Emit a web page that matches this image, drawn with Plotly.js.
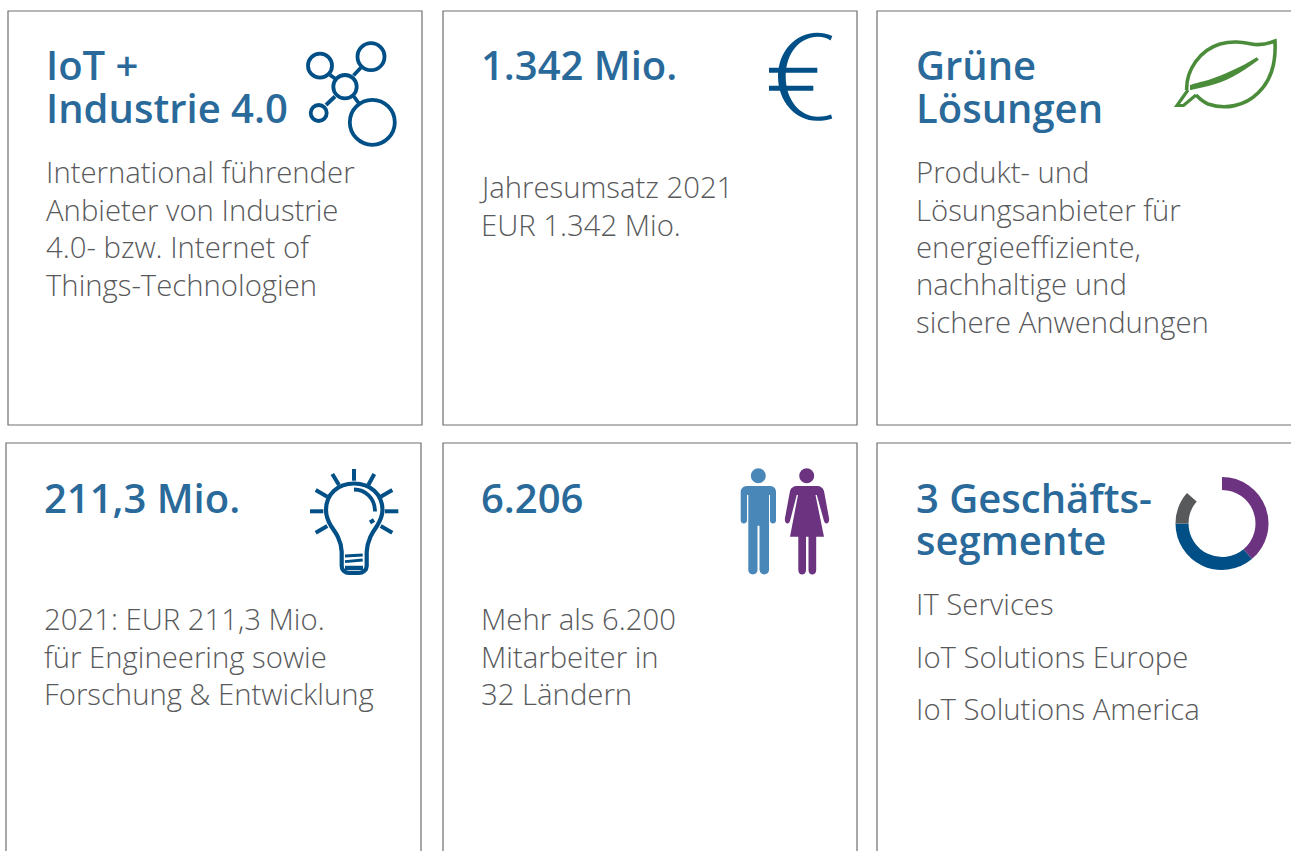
<!DOCTYPE html>
<html><head><meta charset="utf-8">
<script src="https://cdn.plot.ly/plotly-3.0.1.min.js"></script>
<style>html,body{margin:0;padding:0;background:#fff;overflow:hidden}#c{width:1291px;height:851px}</style>
</head><body><div id="c"></div>
<script>
// Donut: business segments (share of circle, degrees)
const segmentLabels = ['IoT Solutions America', 'IoT Solutions Europe', 'IT Services', ''];
const segmentValues = [140, 130, 41, 49];
const segmentColors = ['#6c3480', '#004f86', '#58595b', 'rgba(0,0,0,0)'];

const headings = [
  ['IoT +', 46.4, 64], ['Industrie 4.0', 46.4, 107],
  ['1.342 Mio.', 481.4, 64],
  ['Grüne', 915.5, 64], ['Lösungen', 915.5, 107],
  ['211,3 Mio.', 44, 497],
  ['6.206', 481, 497],
  ['3 Geschäfts-', 915.5, 497], ['segmente', 915.5, 539.5]
];
const bodyLines = [
  ['International führender', 46, 172], ['Anbieter von Industrie', 46, 209.5],
  ['4.0- bzw. Internet of', 46, 247], ['Things-Technologien', 46, 284.5],
  ['Jahresumsatz 2021', 479, 187], ['EUR 1.342 Mio.', 481, 225],
  ['Produkt- und', 916, 172], ['Lösungsanbieter für', 916, 209.5],
  ['energieeffiziente,', 916, 247], ['nachhaltige und', 916, 284], ['sichere Anwendungen', 916, 322],
  ['2021: EUR 211,3 Mio.', 44, 619], ['für Engineering sowie', 44, 657], ['Forschung & Entwicklung', 44, 694],
  ['Mehr als 6.200', 481, 619], ['Mitarbeiter in', 481, 657], ['32 Ländern', 481, 694],
  ['IT Services', 916, 604], ['IoT Solutions Europe', 916, 657], ['IoT Solutions America', 916, 709]
];
const cards = [[8,11,422,425],[443,11,857,425],[877,11,1320,425],[6,443,421,900],[443,443,857,900],[877,443,1320,900]];

const navy = '#004f86', green = '#4a8c3a', manBlue = '#4a87b9', purple = '#6c3480';
const HEAD = '#2a6a9a', BODY = '#58595b', BOX = '#6f6f6f';

const ringIcons = [[345,86.7,11.7],[371,56.7,13.5],[320,65.7,12],[318.7,113,8],[372.3,122.3,22.5]];
const strokes = [
  // network connectors
  ['M330 75L335 78.5', navy, 3.8], ['M353.5 75.5L361 67.5', navy, 3.8],
  ['M335 96.5L326 105', navy, 3.8], ['M353.5 96L359 103.5', navy, 3.8],
  // leaf
  ['M1186.7 90C1186 70 1200 50 1220 44C1235 40 1245 43 1255 44.5C1263 45 1270 43 1275 41C1276 60 1272 80 1258 93C1245 106 1225 110 1208 104C1203 102 1199 98 1196 95', green, 3.6],
  ['M1188 90L1177 105.5L1183.5 105.5L1196 95', green, 3.2],
  // bulb
  ['M354 469V480.7', navy, 4], ['M332.3 474L339 485', navy, 4], ['M374.3 474L368.3 485', navy, 4],
  ['M315.7 490L327.3 496.7', navy, 4], ['M392.3 490L380.7 496.7', navy, 4],
  ['M310 511.3H323.3', navy, 4], ['M398.3 511.3H385', navy, 4],
  ['M315.7 532.7L327.3 526', navy, 4], ['M392.3 532.7L380.7 526', navy, 4],
  ['M341.7 551.7C341 540 336 533 331 526C328 521 326 516 326 510C326 494 338 483.5 354 483.5C370 483.5 382.5 494 382.5 510C382.5 516 380 521 377 526C372 533 367.5 540 366.7 551.7L366.7 566C366.7 570 363 573 359 573L349 573C345 573 341.7 570 341.7 566Z', navy, 4.2],
  ['M354 489.5C365 489.5 375 498 375 511.5', navy, 3.8],
  ['M370 522.5L374 520', navy, 4],
  ['M345 556L362.7 555', navy, 2.8], ['M345 561.7L362.7 560', navy, 2.8], ['M345 568L363 568', navy, 4.5]
];
const fills = [
  // euro
  ['M832.3 36C827 33.5 822 32.7 817 32.7C795 32.7 778 52 778 76.5C778 101 795 120.8 817 120.8C823 120.8 828 120 832.3 118.5L831 114.5C827 116 822 116.7 818 116.7C800 116.7 785.7 100 785.7 76.5C785.7 53 800 36.8 818 36.8C823 36.8 827 38 830.5 40.5Z', navy],
  ['M769 67.7H817.3V72.7H769Z', navy], ['M769 85.7H813.3V90.7H769Z', navy],
  // leaf vein
  ['M1256.7 57.3C1240 68 1225 74 1208.3 80C1200 82 1195 83.5 1190 85L1190 90.3C1197 88.5 1203 87.5 1208.3 86C1225 82 1240 74 1258.8 59.8Z', green],
  // man
  ['M747 486L770 486C774 486 776 489 776 492L776 520.5C776 524.5 770 524.5 770 520.5L770 495L769 495L769 569.5C769 576 759.5 576 759.5 569.5L759.5 525.7L757.5 525.7L757.5 569.5C757.5 576 748.3 576 748.3 569.5L748.3 495L747 495L747 520.5C747 524.5 740.7 524.5 740.7 520.5L740.7 492C740.7 489 743 486 747 486Z', manBlue],
  // woman
  ['M798 486L816 486C821 486 823 488 824 491L829 518C830 524 825 525 824 521L816.8 495L815.5 495L824 536.7L816.2 536.7L816.2 570C816.2 576 808.5 576 808.5 570L808.5 536.7L806 536.7L806 570C806 576 798.3 576 798.3 570L798.3 536.7L790 536.7L798 495L796.7 495L790 521C789 525 784 524 785 518L790 491C791 488 793 486 798 486Z', purple]
];
const heads = [[758.3,475.7,7.5,manBlue],[806.7,475.7,7.5,purple]];

const shapes = [];
cards.forEach(c => shapes.push({type:'rect',xref:'x',yref:'y',x0:c[0],y0:c[1],x1:c[2],y1:c[3],line:{color:BOX,width:1.2},fillcolor:'rgba(0,0,0,0)'}));
ringIcons.forEach(r => shapes.push({type:'circle',xref:'x',yref:'y',x0:r[0]-r[2],x1:r[0]+r[2],y0:r[1]-r[2],y1:r[1]+r[2],line:{color:navy,width:3.8},fillcolor:'rgba(0,0,0,0)'}));
strokes.forEach(s => shapes.push({type:'path',xref:'x',yref:'y',path:s[0],line:{color:s[1],width:s[2]},fillcolor:'rgba(0,0,0,0)'}));
fills.forEach(f => shapes.push({type:'path',xref:'x',yref:'y',path:f[0],line:{width:0},fillcolor:f[1]}));
heads.forEach(h => shapes.push({type:'circle',xref:'x',yref:'y',x0:h[0]-h[2],x1:h[0]+h[2],y0:h[1]-h[2],y1:h[1]+h[2],line:{width:0},fillcolor:h[3]}));

const note = (t, size, weight, color) => ({
  text:t[0], x:t[1], y:t[2], xref:'x', yref:'y', xanchor:'left', yanchor:'middle', showarrow:false, borderpad:0, borderwidth:0,
  font:{family:'"Open Sans", sans-serif', size:size, weight:weight, color:color}
});
const annotations = headings.map(t => note(t, 40, 600, HEAD)).concat(bodyLines.map(t => note(t, 29.3, 300, BODY)));

const W = 1291, H = 851, cx = 1222, cy = 523.5, R = 46.5;
const traces = [
  {type:'scatter', x:[], y:[], hoverinfo:'skip', showlegend:false},
  {type:'pie', labels:segmentLabels, values:segmentValues, sort:false, direction:'clockwise', rotation:0, hole:0.72,
   marker:{colors:segmentColors, line:{width:0}}, textinfo:'none', hoverinfo:'label', showlegend:false,
   domain:{x:[(cx-R)/W,(cx+R)/W], y:[1-(cy+R)/H,1-(cy-R)/H]}}
];
Plotly.newPlot('c', traces, {
  width:W, height:H, margin:{l:0,r:0,t:0,b:0,pad:0}, paper_bgcolor:'#fff', plot_bgcolor:'#fff', showlegend:false,
  xaxis:{range:[0,W], visible:false, fixedrange:true},
  yaxis:{range:[H,0], visible:false, fixedrange:true},
  shapes:shapes, annotations:annotations
}, {displayModeBar:false, staticPlot:true});
</script></body></html>
